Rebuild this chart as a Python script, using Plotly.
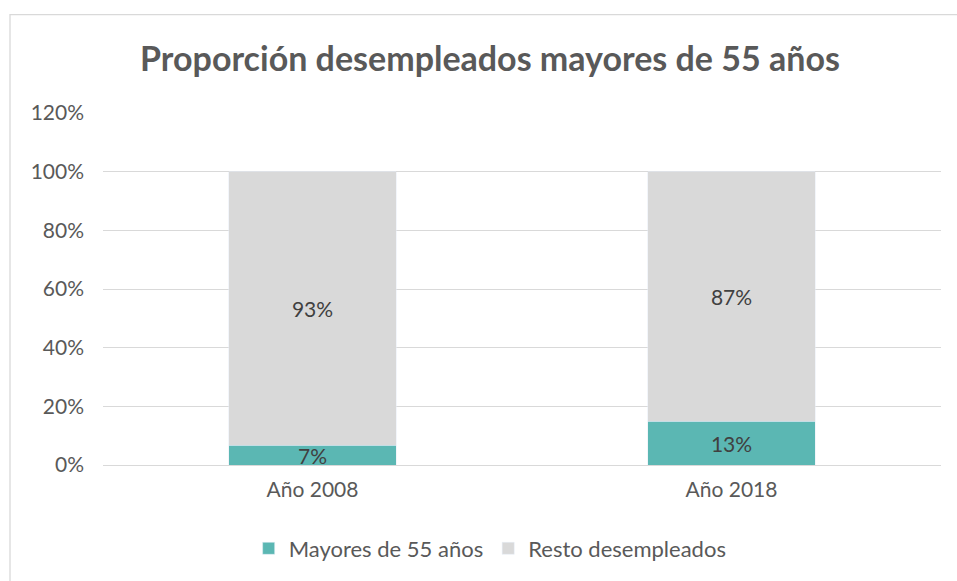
import plotly.graph_objects as go

categories = ["Año 2008", "Año 2018"]
mayores = [0.068, 0.149]
resto = [0.932, 0.851]
mayores_labels = ["7%", "13%"]
resto_labels = ["93%", "87%"]
tick_vals = [0, 0.2, 0.4, 0.6, 0.8, 1.0, 1.2]
tick_text = ["0%", "20%", "40%", "60%", "80%", "100%", "120%"]

FONT = "Lato, 'Open Sans', sans-serif"

fig = go.Figure()
fig.add_trace(go.Bar(
    x=categories, y=mayores, name="Mayores de 55 años",
    marker=dict(color="#5BB7B3"),
    text=mayores_labels, textposition="inside", insidetextanchor="middle",
    constraintext="none", cliponaxis=False,
    textfont=dict(size=21, color="#404040", family=FONT),
    hoverinfo="skip",
))
fig.add_trace(go.Bar(
    x=categories, y=resto, name="Resto desempleados",
    marker=dict(color="#D9D9D9"),
    text=resto_labels, textposition="inside", insidetextanchor="middle",
    constraintext="none", cliponaxis=False,
    textfont=dict(size=21, color="#404040", family=FONT),
    hoverinfo="skip",
))

L, R, T, B = 103, 16, 113, 114
W, H = 957, 581
pw, ph = W - L - R, H - T - B

fig.update_layout(
    width=W, height=H,
    barmode="stack", bargap=0.6,
    margin=dict(l=L, r=R, t=T, b=B),
    paper_bgcolor="white", plot_bgcolor="white",
    font=dict(family=FONT, color="#595959", size=21),
    title=dict(
        text="<b>Proporción desempleados mayores de 55 años</b>",
        x=490 / W, xanchor="center", y=1 - 59 / H, yanchor="middle",
        font=dict(size=34, color="#595959", family=FONT),
    ),
    xaxis=dict(showgrid=False, showline=False, ticks="", ticklabelstandoff=10,
               tickfont=dict(size=21, color="#595959")),
    yaxis=dict(range=[0, 1.2], tickvals=tick_vals, ticktext=tick_text,
               showgrid=True, gridcolor="#D9D9D9", gridwidth=1.3,
               zeroline=True, zerolinecolor="#D9D9D9", zerolinewidth=1.3,
               ticks="", ticklabelstandoff=18,
               tickfont=dict(size=21, color="#595959")),
    legend=dict(orientation="h", x=0.462, xanchor="center",
                y=-(551 - 467) / ph, yanchor="middle",
                font=dict(size=22, color="#595959"),
                itemwidth=30, traceorder="normal"),
    showlegend=True,
)

fig.add_shape(type="rect", xref="paper", yref="paper",
              x0=(10 - L) / pw, x1=(W + 20 - L) / pw,
              y0=-(H + 20 - 467) / ph, y1=(467 - 14) / ph,
              line=dict(color="#D9D9D9", width=1.3), fillcolor="rgba(0,0,0,0)",
              layer="below")

fig.write_html("out.html", config={"displayModeBar": False},
               post_script="document.body.style.margin='0px';")
